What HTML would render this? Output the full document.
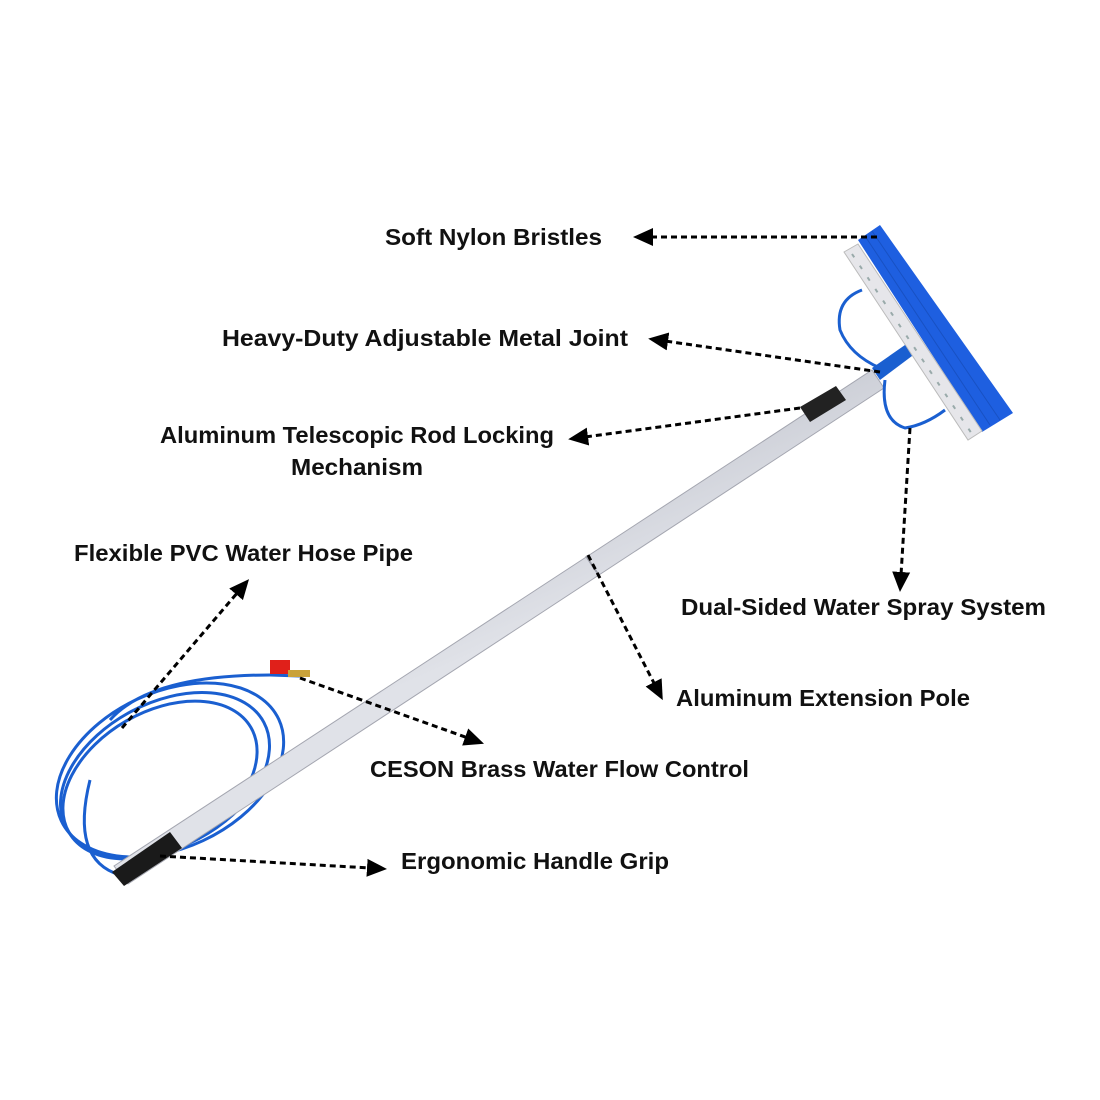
<!DOCTYPE html>
<html><head><style>
html,body{margin:0;padding:0;background:#fff;}
svg{display:block}
text{font-family:"Liberation Sans",sans-serif;font-weight:bold;font-size:23px;fill:#111}
</style></head><body>
<svg width="1100" height="1100" viewBox="0 0 1100 1100">
<defs>
<linearGradient id="pole" x1="0" y1="0" x2="0.4" y2="0.6">
<stop offset="0" stop-color="#eeeef2"/><stop offset="0.5" stop-color="#b9bcc6"/><stop offset="1" stop-color="#e0e2e8"/>
</linearGradient>
<marker id="ah" markerWidth="22" markerHeight="22" refX="3" refY="11" orient="auto" markerUnits="userSpaceOnUse" viewBox="0 0 22 22">
<path d="M0,2 L20,11 L0,20 z" fill="#000"/></marker>
</defs>
<g fill="none" stroke="#1a5fd0" stroke-width="3">
<ellipse cx="170" cy="770" rx="120" ry="78" transform="rotate(-25 170 770)"/>
<ellipse cx="165" cy="775" rx="112" ry="72" transform="rotate(-28 165 775)"/>
<ellipse cx="160" cy="780" rx="105" ry="68" transform="rotate(-30 160 780)"/>
<path d="M270 675 Q150 675 110 720"/>
<path d="M270 675 L300 676"/>
<path d="M90 780 Q70 860 120 875"/>
</g>
<rect x="270" y="660" width="20" height="14" fill="#e0201a"/>
<rect x="288" y="670" width="22" height="7" fill="#c9a23a"/>
<polygon points="114,866 872,370 884,388 128,884" fill="url(#pole)" stroke="#a4a6b0" stroke-width="1"/>
<line x1="586" y1="556" x2="598" y2="574" stroke="#9ea0aa" stroke-width="2"/>
<polygon points="800,407 836,386 846,400 810,422" fill="#222"/>
<polygon points="112,872 170,832 182,848 124,886" fill="#1a1a1a"/>
<polygon points="858,240 880,225 1013,413 982,432" fill="#1e5fe0"/>
<g stroke="#1548b0" stroke-width="1" opacity="0.6">
<line x1="865" y1="236" x2="990" y2="425"/><line x1="872" y1="231" x2="1000" y2="420"/>
</g>
<polygon points="844,252 858,244 982,431 968,440" fill="#e6e6ea" stroke="#bbb"/>
<g stroke="#9aa" stroke-width="2" stroke-dasharray="4,10">
<line x1="852" y1="254" x2="972" y2="434"/>
</g>
<g fill="none" stroke="#1a5fd0" stroke-width="3">
<path d="M862,290 Q835,300 840,330 Q850,355 880,368"/>
<path d="M885,380 Q880,420 905,428 Q925,425 945,410"/>
</g>
<polygon points="872,368 905,345 912,356 880,380" fill="#1a5fd0"/>
<g stroke="#000" stroke-width="3" stroke-dasharray="6,4" fill="none">
<line x1="877" y1="237" x2="650" y2="237" marker-end="url(#ah)"/>
<line x1="880" y1="372" x2="665" y2="341" marker-end="url(#ah)"/>
<line x1="800" y1="408" x2="585" y2="437" marker-end="url(#ah)"/>
<line x1="910" y1="428" x2="901" y2="575" marker-end="url(#ah)"/>
<line x1="588" y1="555" x2="655" y2="685" marker-end="url(#ah)"/>
<line x1="122" y1="728" x2="238" y2="592" marker-end="url(#ah)"/>
<line x1="300" y1="678" x2="468" y2="738" marker-end="url(#ah)"/>
<line x1="160" y1="856" x2="370" y2="868" marker-end="url(#ah)"/>
</g>
<text x="385" y="245" textLength="217" lengthAdjust="spacingAndGlyphs">Soft Nylon Bristles</text>
<text x="222" y="346" textLength="406" lengthAdjust="spacingAndGlyphs">Heavy-Duty Adjustable Metal Joint</text>
<text x="160" y="443" textLength="394" lengthAdjust="spacingAndGlyphs">Aluminum Telescopic Rod Locking</text>
<text x="291" y="475" textLength="132" lengthAdjust="spacingAndGlyphs">Mechanism</text>
<text x="74" y="561" textLength="339" lengthAdjust="spacingAndGlyphs">Flexible PVC Water Hose Pipe</text>
<text x="681" y="615" textLength="365" lengthAdjust="spacingAndGlyphs">Dual-Sided Water Spray System</text>
<text x="676" y="706" textLength="294" lengthAdjust="spacingAndGlyphs">Aluminum Extension Pole</text>
<text x="370" y="777" textLength="379" lengthAdjust="spacingAndGlyphs">CESON Brass Water Flow Control</text>
<text x="401" y="869" textLength="268" lengthAdjust="spacingAndGlyphs">Ergonomic Handle Grip</text>
</svg>
</body></html>
